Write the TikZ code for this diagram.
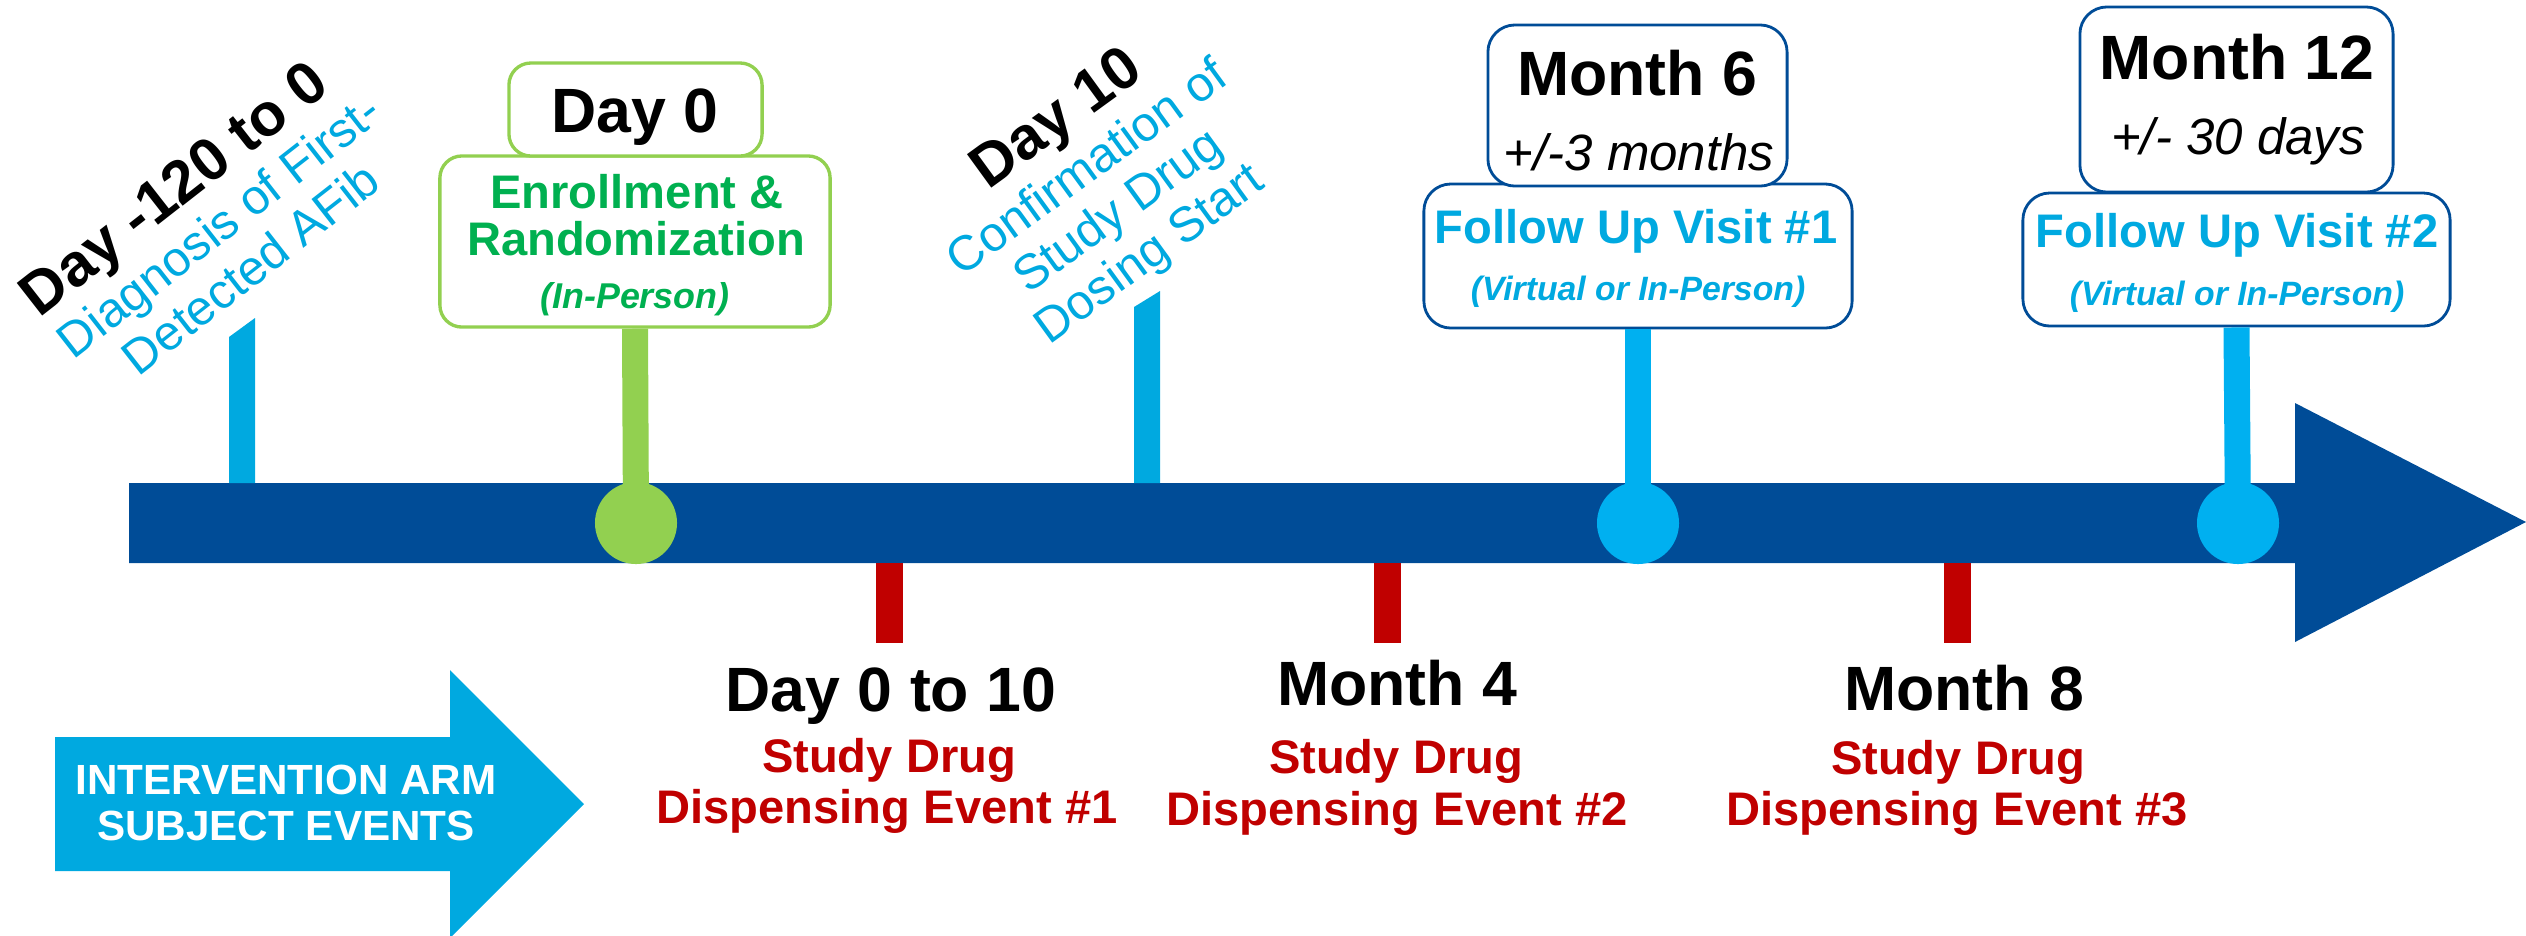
\documentclass[tikz,border=0pt]{standalone}
\usepackage{fontspec}
\setmainfont{Liberation Sans}

\definecolor{tlnavy}{RGB}{0, 76, 151}
\definecolor{tlsky}{RGB}{0, 176, 240}
\definecolor{tlcyan}{RGB}{0, 169, 224}
\definecolor{tllime}{RGB}{146, 208, 80}
\definecolor{tlgreen}{RGB}{0, 176, 80}
\definecolor{tlred}{RGB}{192, 0, 0}

\begin{document}
\begin{tikzpicture}[
      x=0.01cm, y=-0.01cm,
      greenbox/.style={draw=tllime, line width=0.95pt, fill=white, rounded corners=0.22cm, inner sep=0pt},
      bluebox/.style={draw=tlnavy, line width=0.8pt, fill=white, rounded corners=0.27cm, inner sep=0pt},
      lbl/.style={anchor=base, inner sep=0pt},
      evtitle/.style={lbl, font=\fontsize{17.8}{20}\selectfont\bfseries},
      evrange/.style={lbl, font=\fontsize{14.5}{17}\selectfont\itshape},
      visittxt/.style={lbl, text=tlcyan, font=\fontsize{13.4}{16}\selectfont\bfseries},
      modetxt/.style={lbl, text=tlcyan, font=\fontsize{9.6}{11}\selectfont\bfseries\itshape},
      greentxt/.style={lbl, text=tlgreen, font=\fontsize{13.4}{16}\selectfont\bfseries},
      redtxt/.style={lbl, text=tlred, font=\fontsize{13.4}{16}\selectfont\bfseries},
      slantttl/.style={lbl, font=\fontsize{17.1}{20}\selectfont\bfseries},
      slanttxt/.style={lbl, text=tlcyan, font=\fontsize{13.9}{16}\selectfont},
      stemline/.style={line width=0.26cm},
      tick/.style={line width=0.27cm, tlred},
      eventdot/.style={circle, minimum size=0.82cm, inner sep=0pt}
    ]
      \useasboundingbox (0,0) rectangle (2526,935);

      % Timeline
      \fill[tlnavy] (129,483) -- (2295,483) -- (2295,403) -- (2526,522)
        -- (2295,642) -- (2295,563) -- (129,563) -- cycle;

      % Intervention arm
      \fill[tlcyan] (55,737) -- (450,737) -- (450,670) -- (584,804)
        -- (450,938) -- (450,871) -- (55,871) -- cycle;
      \node[lbl, text=white, font=\fontsize{12}{14}\selectfont\bfseries] (arm1) at (286,794) {INTERVENTION ARM};
      \node[lbl, text=white, font=\fontsize{12}{14}\selectfont\bfseries] (arm2) at (286,840) {SUBJECT EVENTS};

      % Day -120 to 0
      \fill[tlcyan] (229,337) -- (255,318) -- (255,483) -- (229,483) -- cycle;
      \node[slantttl, rotate=38] (prelbl) at (186,204) {Day -120 to 0};
      \node[slanttxt, rotate=38] (prediag1) at (229,239) {Diagnosis of First-};
      \node[slanttxt, rotate=38] (prediag2) at (261,282) {Detected AFib};

      % Day 0
      \node[greenbox, minimum width=3.9cm, minimum height=1.71cm] (enrollbox) at (635,241.5) {};
      \node[greenbox, minimum width=2.53cm, minimum height=0.93cm] (day0box) at (635.5,109.5) {};
      \node[eventdot, fill=tllime] (day0dot) at (636,523) {};
      \draw[stemline, tllime] (enrollbox.south) -- (day0dot.center);
      \node[evtitle] (day0lbl) at (635,132) {Day 0};
      \node[greentxt] (enroll1) at (637,208) {Enrollment \&};
      \node[greentxt] (enroll2) at (636,255) {Randomization};
      \node[lbl, text=tlgreen, font=\fontsize{10.2}{12}\selectfont\bfseries\itshape] (enroll3) at (635,308) {(In-Person)};

      % Day 10
      \fill[tlcyan] (1134,307) -- (1160,291) -- (1160,483) -- (1134,483) -- cycle;
      \node[slantttl, rotate=36] (day10lbl) at (1067,133) {Day 10};
      \node[slanttxt, rotate=36] (dose1) at (1096,180) {Confirmation of};
      \node[slanttxt, rotate=36] (dose2) at (1127,223) {Study Drug};
      \node[slanttxt, rotate=36] (dose3) at (1158,266) {Dosing Start};

      % Month 6
      \node[bluebox, minimum width=4.28cm, minimum height=1.44cm] (fu1box) at (1638,256) {};
      \node[bluebox, minimum width=2.99cm, minimum height=1.61cm] (m6box) at (1637.5,105.5) {};
      \node[eventdot, fill=tlsky] (m6dot) at (1638,523) {};
      \draw[stemline, tlsky] (fu1box.south) -- (m6dot.center);
      \node[evtitle] (m6lbl) at (1637,95) {Month 6};
      \node[evrange] (m6range) at (1639,170) {+/-3 months};
      \node[visittxt] (fu1lbl) at (1636,243) {Follow Up Visit \#1};
      \node[modetxt] (fu1mode) at (1638,300) {(Virtual or In-Person)};

      % Month 12
      \node[bluebox, minimum width=4.27cm, minimum height=1.33cm] (fu2box) at (2236.5,259.5) {};
      \node[bluebox, minimum width=3.13cm, minimum height=1.85cm] (m12box) at (2236.5,99.5) {};
      \node[eventdot, fill=tlsky] (m12dot) at (2238,523) {};
      \draw[stemline, tlsky] (fu2box.south) -- (m12dot.center);
      \node[evtitle] (m12lbl) at (2237,79) {Month 12};
      \node[evrange] (m12range) at (2238,154) {+/- 30 days};
      \node[visittxt] (fu2lbl) at (2237,247) {Follow Up Visit \#2};
      \node[modetxt] (fu2mode) at (2237,305) {(Virtual or In-Person)};

      % Dispensing events
      \coordinate (tick1) at (889.5,563);
      \coordinate (tick2) at (1387.5,563);
      \coordinate (tick3) at (1957.5,563);
      \draw[tick] (tick1) -- ++(0,80);
      \draw[tick] (tick2) -- ++(0,80);
      \draw[tick] (tick3) -- ++(0,80);

      \node[evtitle] (disp1lbl) at (891,711) {Day 0 to 10};
      \node[redtxt] (disp1a) at (889,772) {Study Drug};
      \node[redtxt] (disp1b) at (887,823) {Dispensing Event \#1};

      \node[evtitle] (disp2lbl) at (1397,705) {Month 4};
      \node[redtxt] (disp2a) at (1396,773) {Study Drug};
      \node[redtxt] (disp2b) at (1397,825) {Dispensing Event \#2};

      \node[evtitle] (disp3lbl) at (1964,710) {Month 8};
      \node[redtxt] (disp3a) at (1958,774) {Study Drug};
      \node[redtxt] (disp3b) at (1957,825) {Dispensing Event \#3};
    \end{tikzpicture}
\end{document}
